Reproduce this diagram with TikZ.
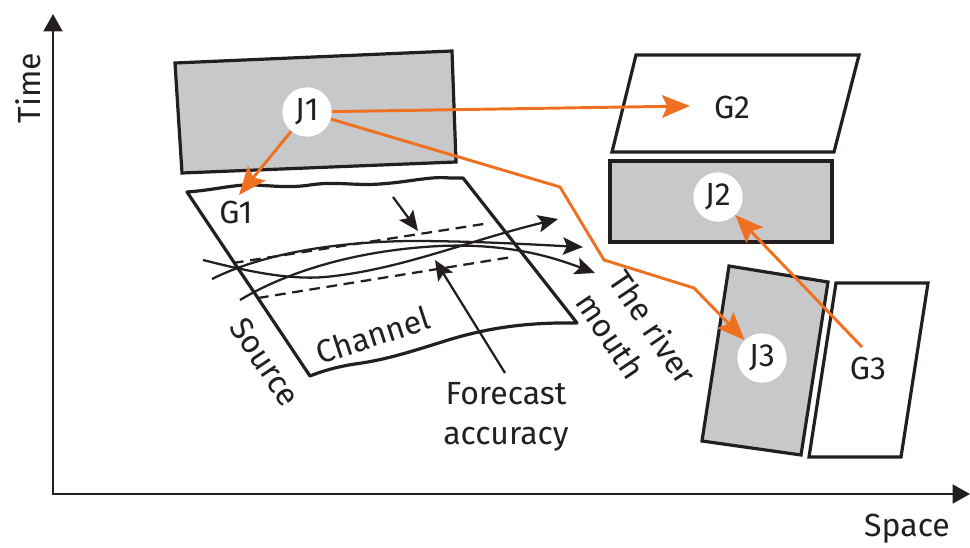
\documentclass[tikz,border=0pt]{standalone}
\usepackage{fontspec}
\setmainfont{Fira Sans}
\usetikzlibrary{arrows.meta}
\definecolor{og}{HTML}{F07021}
\definecolor{bg}{HTML}{C7C8CA}
\definecolor{ink}{HTML}{231F20}
\begin{document}
\begin{tikzpicture}[x=0.75pt,y=-0.75pt,
  font=\fontsize{24}{30}\selectfont, text=ink,
  box/.style={draw=ink, line width=2.4pt, line join=miter},
  axis/.style={draw=ink, line width=2pt, line join=miter},
  curve/.style={draw=ink, line width=1.7pt, -{Stealth[length=15pt,width=13pt,inset=3pt]}},
  dashline/.style={draw=ink, line width=1.7pt, dash pattern=on 8pt off 5pt},
  oarrow/.style={draw=og, line width=2.2pt, line join=miter, -{Stealth[length=21pt,width=17pt,inset=4pt]}},
  jc/.style={circle, fill=white, inner sep=0pt, minimum size=37pt}]
\useasboundingbox (0,0) rectangle (970,548);

% axes
\coordinate (O) at (53,494);
\coordinate (T) at (53,14);
\coordinate (S) at (970,494);
\draw[axis, {Triangle[length=13pt,width=14pt]}-{Triangle[length=13pt,width=14pt]}] (T) -- (O) -- (S);
\node[rotate=90] (time) at (28,88) {Time};
\node (space) at (907,529) {Space};

% J1 box
\draw[box, fill=bg] (175,63) -- (452,51) -- (456,162) -- (182,173) -- cycle;
\node[jc] (j1) at (307,112) {J1};

% G2 and J2
\draw[box] (636,55) -- (859,55) -- (834,152) -- (612,152) -- cycle;
\node (g2) at (732,107) {G2};
\draw[box, fill=bg] (610,161) rectangle (832,242);
\node[jc] (j2) at (718,197) {J2};

% J3 and G3
\draw[box, fill=bg] (729,266) -- (828,282) -- (801,455) -- (702,441) -- cycle;
\node[jc] (j3) at (762,358) {J3};
\draw[box] (836,283) -- (928,283) -- (901,457) -- (809,457) -- cycle;
\node (g3) at (868,368) {G3};

% G1 sheet
\draw[box, line join=round] (187,192)
  .. controls (215,190) and (235,184) .. (255,185)
  .. controls (275,186) and (290,188) .. (310,185)
  .. controls (335,181) and (355,186) .. (380,184)
  .. controls (410,182) and (430,176) .. (450,178)
  -- (463,178) -- (577,323)
  .. controls (520,322) and (480,330) .. (445,341)
  .. controls (410,352) and (385,360) .. (355,364)
  .. controls (335,367) and (320,372) .. (310,376) -- cycle;
\node (g1) at (236,212) {G1};

% dashed bounds
\draw[dashline] (233,263) -- (490,223);
\draw[dashline] (258,298) -- (512,257);

% flow curves
\draw[curve] (203,260) .. controls (250,272) and (290,280) .. (325,277)
  .. controls (400,270) and (470,240) .. (558,219);
\draw[curve] (212,279) .. controls (260,255) and (330,242) .. (410,241)
  .. controls (480,241) and (540,245) .. (583,247);
\draw[curve] (240,300) .. controls (290,270) and (360,250) .. (440,246)
  .. controls (510,243) and (555,258) .. (595,273);

% accuracy arrows
\coordinate (dtail) at (393,197);
\coordinate (dtip) at (418,231);
\draw[curve] (dtail) -- (dtip);
\node[align=center] (fa) at (506,417) {Forecast\\accuracy};
\coordinate (ftail) at (505,373);
\coordinate (ftip) at (435,260);
\draw[curve] (ftail) -- (ftip);

% labels on sheet
\node[rotate=-56] (src) at (265,362) {Source};
\node[rotate=18] (ch) at (373,335) {Channel};
\node[rotate=-56, align=left] (rm) at (637,338) {The river\\mouth};

% orange arrows
\coordinate (g2tip) at (690,106);
\coordinate (g1tip) at (239,195);
\coordinate (b1) at (560,187);
\coordinate (b2) at (604,260);
\coordinate (b3) at (694,288);
\coordinate (g3tail) at (862,347);
\draw[oarrow] (j1) -- (g2tip);
\draw[oarrow] (j1) -- (g1tip);
\draw[oarrow] (j1) -- (b1) -- (b2) -- (b3) -- (j3);
\draw[oarrow] (g3tail) -- (j2);
\end{tikzpicture}
\end{document}
